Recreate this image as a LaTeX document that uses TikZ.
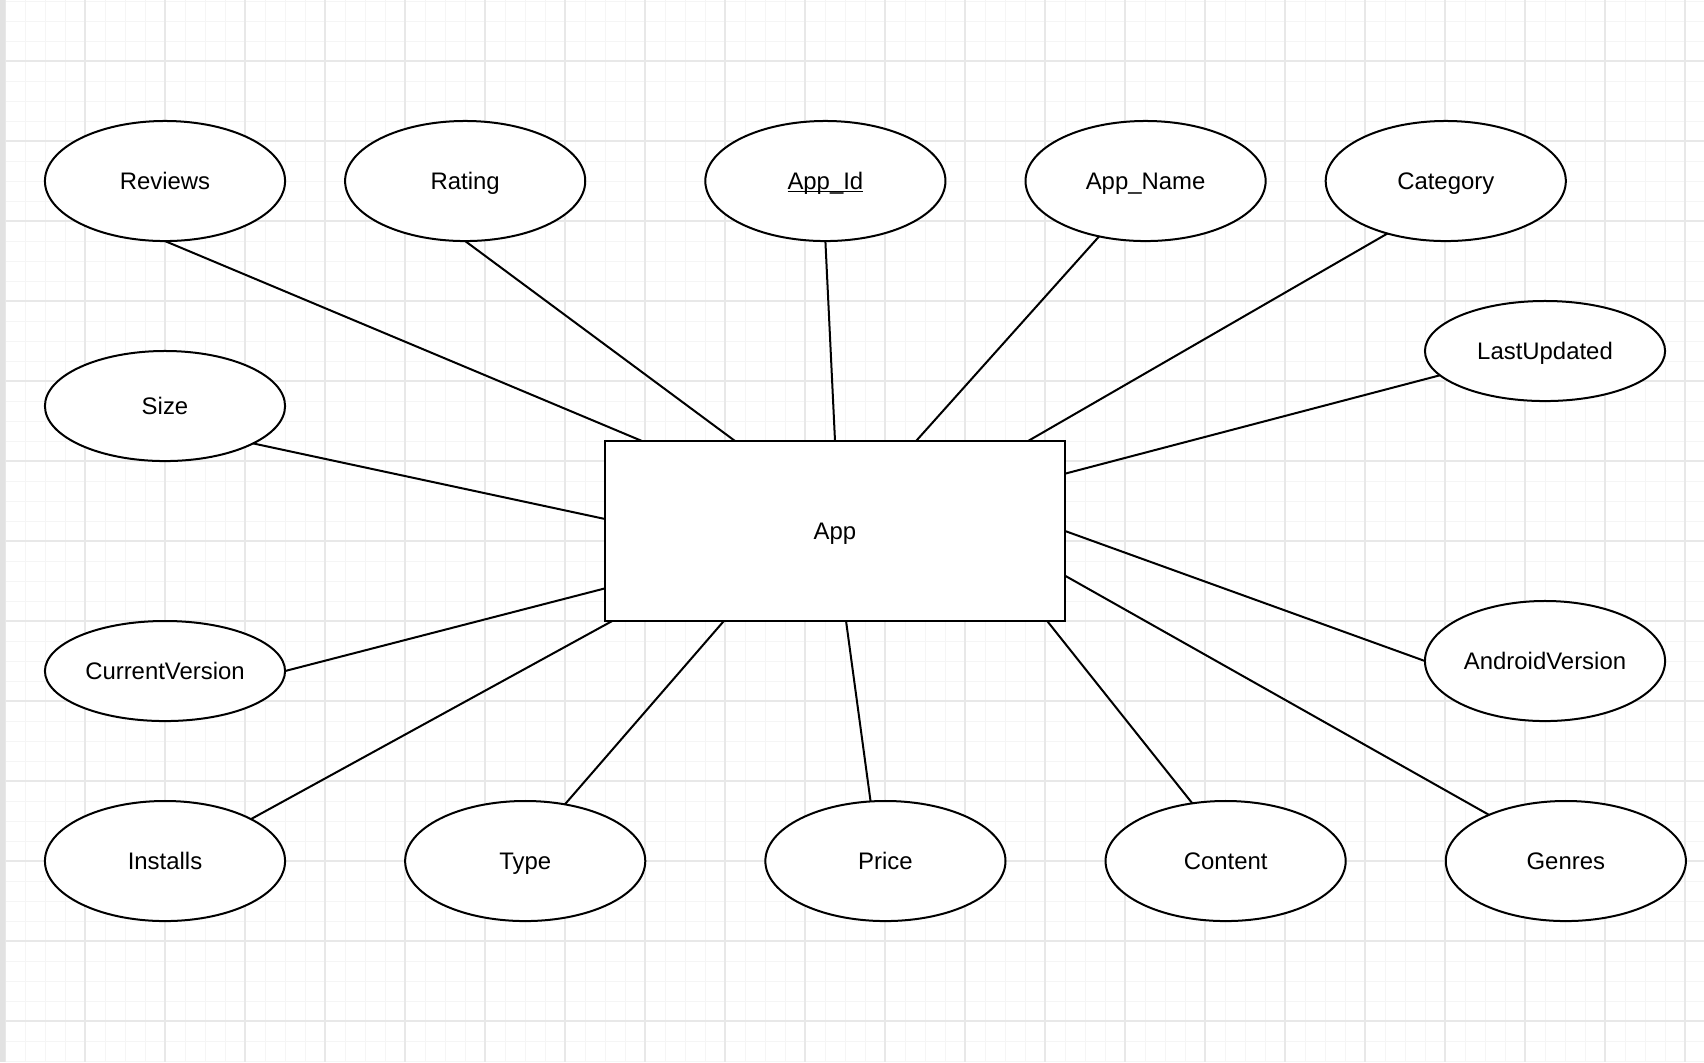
\documentclass[tikz,border=0pt]{standalone}
\usepackage{fontspec}
\setmainfont{Liberation Sans}
\usetikzlibrary{positioning, shapes}

\definecolor{gridminor}{RGB}{245,245,245}
\definecolor{gridmajor}{RGB}{232,232,232}
\definecolor{sidebar}{RGB}{226,226,226}

% underlined key attribute
\newcommand{\pkey}[1]{\setbox0\hbox{#1}\rlap{\rule[-0.1em]{\wd0}{0.06em}}\box0}

\begin{document}
\begin{tikzpicture}[x=0.01cm, y=-0.01cm,
    attr/.style={ellipse, draw, line width=0.02cm, fill=white, inner sep=0pt, outer sep=0pt,
                 minimum width=2.4cm, minimum height=1.2cm, text height=4.9pt, text depth=0pt,
                 font=\fontsize{6.8}{8}\selectfont},
    entity/.style={rectangle, draw, line width=0.02cm, fill=white, inner sep=0pt, outer sep=0pt,
                   minimum width=4.6cm, minimum height=1.8cm, text height=4.9pt, text depth=0pt,
                   font=\fontsize{6.8}{8}\selectfont},
    link/.style={line width=0.02cm}]
    % background grid
    \useasboundingbox (0,0) rectangle (1704,1062);
    \fill[white] (0,0) rectangle (1704,1062);
    \foreach \gx in {5,25,...,1705} \draw[gridminor, line width=0.01cm] (\gx,0) -- (\gx,1062);
    \foreach \gy in {1,21,...,1061} \draw[gridminor, line width=0.01cm] (0,\gy) -- (1704,\gy);
    \foreach \gx in {5,85,...,1705} \draw[gridmajor, line width=0.015cm] (\gx,0) -- (\gx,1062);
    \foreach \gy in {61,141,...,1061} \draw[gridmajor, line width=0.015cm] (0,\gy) -- (1704,\gy);
    \fill[sidebar] (0,0) rectangle (5,1062);

    % entity
    \node[entity] (app) at (835,531) {App};

    % top row
    \node[attr] (reviews) at (165,181) {Reviews};
    \node[attr, right=0.6cm of reviews] (rating) {Rating};
    \node[attr, right=1.2cm of rating] (appid) {\pkey{App\_Id}};
    \node[attr, right=0.8cm of appid] (appname) {App\_Name};
    \node[attr, right=0.6cm of appname] (category) {Category};

    % left column
    \node[attr, minimum height=1.1cm] (size) at (165,406) {Size};
    \node[attr, minimum height=1.0cm] (curver) at (165,671) {CurrentVersion};

    % right column
    \node[attr, minimum height=1.0cm] (lastupd) at (1545,351) {LastUpdated};
    \node[attr] (andver) at (1545,661) {AndroidVersion};

    % bottom row
    \node[attr] (installs) at (165,861) {Installs};
    \node[attr, right=1.2cm of installs] (type) {Type};
    \node[attr, right=1.2cm of type] (price) {Price};
    \node[attr, right=1.0cm of price] (content) {Content};
    \node[attr, right=1.0cm of content] (genres) {Genres};

    % attribute links
    \draw[link] (reviews.-90) -- (app.155.75);
    \draw[link] (rating.-90) -- (app.138);
    \draw[link] (appid.-90) -- (app.90);
    \draw[link] (appname.-130.6) -- (app.48);
    \draw[link] (category.-138.6) -- (app.25.8);
    \draw[link] (lastupd.193.5) -- (app.14.4);
    \draw[link] (andver.180) -- (app.0);
    \draw[link] (genres.149.6) -- (app.-11.07);
    \draw[link] (content.120.5) -- (app.-23.4);
    \draw[link] (price.104.5) -- (app.-83);
    \draw[link] (type.55.5) -- (app.-141.9);
    \draw[link] (installs.26.8) -- (app.202.6);
    \draw[link] (curver.0) -- (app.194.9);
    \draw[link] (size.-23.6) -- (app.177);
\end{tikzpicture}
\end{document}
